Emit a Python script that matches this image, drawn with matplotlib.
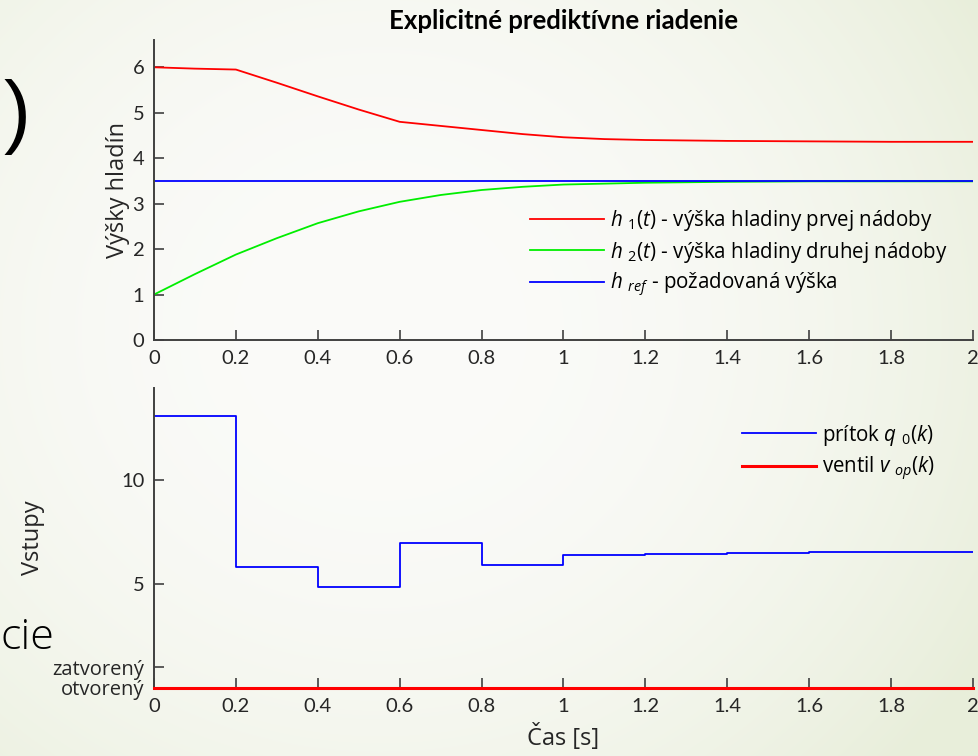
import numpy as np
import matplotlib
matplotlib.use('Agg')
import matplotlib.pyplot as plt
from matplotlib import font_manager

plt.rcParams['font.family'] = ['Lato', 'DejaVu Sans']
plt.rcParams['mathtext.fontset'] = 'custom'
plt.rcParams['mathtext.it'] = 'Open Sans:italic'
plt.rcParams['mathtext.rm'] = 'Open Sans'

# top plot: tank levels
t_h = [0, 0.1, 0.2, 0.3, 0.4, 0.5, 0.6, 0.7, 0.8, 0.9, 1.0, 1.1, 1.2, 1.4, 1.6, 1.8, 2.0]
h1 = [6.0, 5.97, 5.95, 5.66, 5.36, 5.07, 4.80, 4.71, 4.62, 4.53, 4.46, 4.42, 4.40, 4.38, 4.37, 4.36, 4.36]
h2 = [1.0, 1.45, 1.88, 2.24, 2.57, 2.83, 3.04, 3.19, 3.30, 3.37, 3.42, 3.44, 3.46, 3.48, 3.49, 3.49, 3.49]
h_ref = 3.5

# bottom plot: inputs (zero-order hold)
t_k = [0, 0.2, 0.4, 0.6, 0.8, 1.0, 1.2, 1.4, 1.6, 1.8, 2.0]
q0 = [13.1, 5.85, 4.86, 6.97, 5.93, 6.39, 6.47, 6.52, 6.54, 6.55, 6.55]
v_op = [0, 0, 0, 0, 0, 0, 0, 0, 0, 0, 0]

xticks = [0, 0.2, 0.4, 0.6, 0.8, 1, 1.2, 1.4, 1.6, 1.8, 2]
xticklabels = ['0', '0.2', '0.4', '0.6', '0.8', '1', '1.2', '1.4', '1.6', '1.8', '2']

W, H = 979, 756
fig = plt.figure(figsize=(W / 100, H / 100), dpi=100)

# slide background gradient
bg = fig.add_axes([0, 0, 1, 1], zorder=-10)
yy, xx = np.mgrid[0:H, 0:W]
r = np.sqrt(((xx - 380) / 700.0) ** 2 + ((yy - 330) / 650.0) ** 2)
r = np.clip(r, 0, 1) ** 2.2
c0 = np.array([251, 251, 249]) / 255.0
c1 = np.array([232, 238, 218]) / 255.0
img = c0[None, None, :] * (1 - r[..., None]) + c1[None, None, :] * r[..., None]
bg.imshow(img, aspect='auto', extent=[0, 1, 0, 1], origin='upper')
bg.axis('off')

# leftovers of the slide text
thin = font_manager.FontProperties(family=['Liberation Sans Narrow', 'Liberation Sans'],
                                   size=58)
fig.text(3 / W, 1 - 117 / H, ')', fontproperties=thin,
         ha='left', va='center', color='black')
fig.text(54 / W, 1 - 638 / H, 'cie', fontsize=31, family='Open Sans',
         fontweight='light', ha='right', va='center', color='black')

spine_c = '#404040'
text_c = '#262626'
leg_font = {'family': 'Open Sans', 'size': 14.8}


def style(ax):
    for s in ['top', 'right']:
        ax.spines[s].set_visible(False)
    for s in ['left', 'bottom']:
        ax.spines[s].set_color(spine_c)
        ax.spines[s].set_linewidth(1.4)
    ax.set_facecolor('none')
    ax.tick_params(direction='in', length=7, width=1.2, color=spine_c,
                   labelcolor=text_c, labelsize=14.5, pad=7)
    ax.set_xlim(0, 2)
    ax.set_xticks(xticks)
    ax.set_xticklabels(xticklabels)


ax1 = fig.add_axes([154 / W, 1 - 340 / H, 819 / W, 300 / H])
style(ax1)
ax1.plot(t_h, h1, color='#ff0000', lw=1.3, label=r'$h\ _{1}(t)$ - výška hladiny prvej nádoby')
ax1.plot(t_h, h2, color='#00ee00', lw=1.3, label=r'$h\ _{2}(t)$ - výška hladiny druhej nádoby')
ax1.axhline(h_ref, color='#0000ff', lw=1.3, label=r'$h\ _{ref}$ - požadovaná výška')
ax1.set_ylim(0, 6.6)
ax1.set_yticks([0, 1, 2, 3, 4, 5, 6])
ax1.set_ylabel('Výšky hladín', fontsize=17, family='Open Sans', color=text_c)
ax1.yaxis.set_label_coords(-0.029, 0.5)
ax1.set_title('Explicitné prediktívne riadenie', fontsize=18.5, fontweight='bold',
              color='black', pad=8)
ax1.legend(loc='upper left', bbox_to_anchor=(0.459, 0.44), frameon=False,
           prop=leg_font, handlelength=3.6, handletextpad=0.3, labelspacing=0.32,
           borderaxespad=0, borderpad=0)

ax2 = fig.add_axes([154 / W, 1 - 688 / H, 819 / W, 300 / H])
style(ax2)
ax2.step(t_k, q0, where='post', color='#0000ff', lw=1.3, label=r'prítok $q\ _{0}(k)$')
ax2.step(t_k, v_op, where='post', color='#ff0000', lw=2.2, clip_on=False,
         label=r'ventil $v\ _{op}(k)$', zorder=5)
ax2.set_ylim(0, 14.45)
ax2.set_yticks([0, 1, 5, 10])
ax2.set_yticklabels(['otvorený', 'zatvorený', '5', '10'])
for lab in ax2.get_yticklabels()[:2]:
    lab.set_fontsize(14.5)
    lab.set_family('Open Sans')
ax2.set_ylabel('Vstupy', fontsize=17, family='Open Sans', color=text_c)
ax2.yaxis.set_label_coords(-0.133, 0.5)
ax2.set_xlabel('Čas [s]', fontsize=17, family='Open Sans', color=text_c, labelpad=7)
ax2.legend(loc='upper left', bbox_to_anchor=(0.718, 0.885), frameon=False,
           prop=leg_font, handlelength=3.6, handletextpad=0.3, labelspacing=0.35,
           borderaxespad=0, borderpad=0)

fig.savefig('out.png', dpi=100)
